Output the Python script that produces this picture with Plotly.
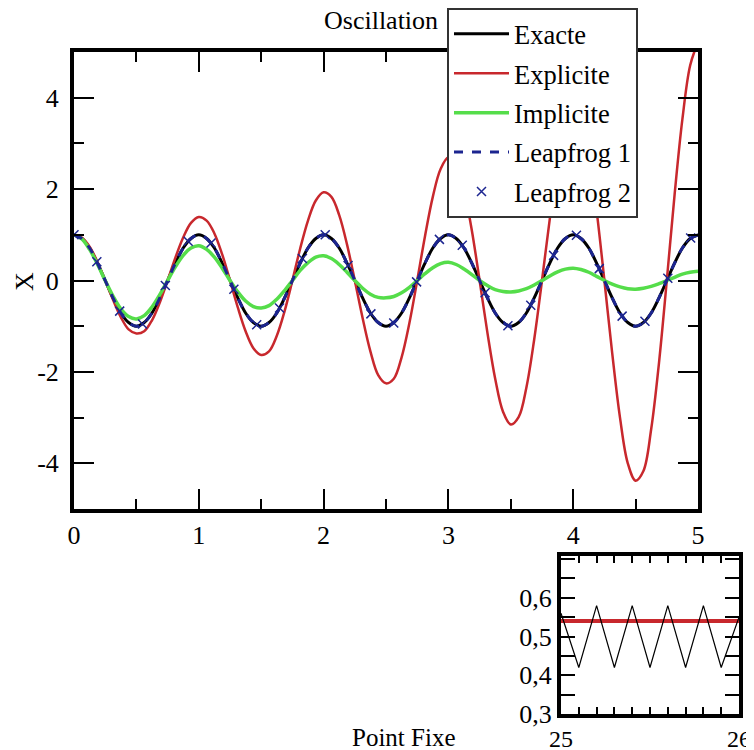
import plotly.graph_objects as go

# the page body adds a small margin, so the figure is drawn a few px in from the window corner
OFF_X, OFF_Y = 7, 6
W, H = 754, 750


def fx(p):
    return (p - OFF_X) / W


def fy(p):
    return 1 - (p - OFF_Y) / H


# time grid of the main panel (read every 1/16)
t = [0, 0.0625, 0.125, 0.1875, 0.25, 0.3125, 0.375, 0.4375,
     0.5, 0.5625, 0.625, 0.6875, 0.75, 0.8125, 0.875, 0.9375,
     1, 1.0625, 1.125, 1.1875, 1.25, 1.3125, 1.375, 1.4375,
     1.5, 1.5625, 1.625, 1.6875, 1.75, 1.8125, 1.875, 1.9375,
     2, 2.0625, 2.125, 2.1875, 2.25, 2.3125, 2.375, 2.4375,
     2.5, 2.5625, 2.625, 2.6875, 2.75, 2.8125, 2.875, 2.9375,
     3, 3.0625, 3.125, 3.1875, 3.25, 3.3125, 3.375, 3.4375,
     3.5, 3.5625, 3.625, 3.6875, 3.75, 3.8125, 3.875, 3.9375,
     4, 4.0625, 4.125, 4.1875, 4.25, 4.3125, 4.375, 4.4375,
     4.5, 4.5625, 4.625, 4.6875, 4.75, 4.8125, 4.875, 4.9375, 5]

exacte = [1, 0.92, 0.71, 0.38, 0, -0.38, -0.71, -0.92,
          -1, -0.92, -0.71, -0.38, 0, 0.38, 0.71, 0.92,
          1, 0.92, 0.71, 0.38, 0, -0.38, -0.71, -0.92,
          -1, -0.92, -0.71, -0.38, 0, 0.38, 0.71, 0.92,
          1, 0.92, 0.71, 0.38, 0, -0.38, -0.71, -0.92,
          -1, -0.92, -0.71, -0.38, 0, 0.38, 0.71, 0.92,
          1, 0.92, 0.71, 0.38, 0, -0.38, -0.71, -0.92,
          -1, -0.92, -0.71, -0.38, 0, 0.38, 0.71, 0.92,
          1, 0.92, 0.71, 0.38, 0, -0.38, -0.71, -0.92,
          -1, -0.92, -0.71, -0.38, 0, 0.38, 0.71, 0.92, 1]

explicite = [1.0, 0.94, 0.74, 0.41, 0, -0.42, -0.80, -1.07,
             -1.16, -1.11, -0.87, -0.48, 0, 0.50, 0.94, 1.26,
             1.39, 1.31, 1.03, 0.57, 0, -0.59, -1.11, -1.48,
             -1.63, -1.55, -1.21, -0.67, 0, 0.70, 1.31, 1.75,
             1.93, 1.83, 1.43, 0.79, 0, -0.82, -1.55, -2.07,
             -2.25, -2.15, -1.68, -0.93, 0, 0.97, 1.83, 2.44,
             2.69, 2.54, 1.98, 1.10, 0, -1.14, -2.15, -2.87,
             -3.15, -2.99, -2.34, -1.29, 0, 1.35, 2.54, 3.39,
             3.74, 3.53, 2.76, 1.53, 0, -1.59, -3.00, -4.00,
             -4.38, -4.17, -3.25, -1.80, 0, 1.88, 3.53, 4.71, 5.21]

implicite = [1.0, 0.91, 0.68, 0.36, 0, -0.34, -0.62, -0.79,
             -0.84, -0.77, -0.58, -0.31, 0, 0.30, 0.55, 0.71,
             0.76, 0.68, 0.51, 0.27, 0, -0.25, -0.45, -0.57,
             -0.60, -0.55, -0.41, -0.22, 0, 0.22, 0.39, 0.51,
             0.54, 0.48, 0.35, 0.18, 0, -0.17, -0.30, -0.37,
             -0.38, -0.35, -0.27, -0.15, 0, 0.15, 0.28, 0.37,
             0.40, 0.35, 0.25, 0.13, 0, -0.11, -0.20, -0.24,
             -0.25, -0.23, -0.18, -0.10, 0, 0.10, 0.19, 0.25,
             0.27, 0.24, 0.18, 0.09, 0, -0.08, -0.14, -0.18,
             -0.19, -0.17, -0.13, -0.07, 0, 0.07, 0.14, 0.18, 0.20]

leapfrog1 = [1, 0.92, 0.71, 0.38, 0, -0.38, -0.71, -0.92,
             -1, -0.92, -0.71, -0.38, 0, 0.38, 0.71, 0.92,
             1, 0.92, 0.71, 0.38, 0, -0.38, -0.71, -0.92,
             -1, -0.92, -0.71, -0.38, 0, 0.38, 0.71, 0.92,
             1, 0.92, 0.71, 0.38, 0, -0.38, -0.71, -0.92,
             -1, -0.92, -0.71, -0.38, 0, 0.38, 0.71, 0.92,
             1, 0.92, 0.71, 0.38, 0, -0.38, -0.71, -0.92,
             -1, -0.92, -0.71, -0.38, 0, 0.38, 0.71, 0.92,
             1, 0.92, 0.71, 0.38, 0, -0.38, -0.71, -0.92,
             -1, -0.92, -0.71, -0.38, 0, 0.38, 0.71, 0.92, 1]

# Leapfrog 2 markers
t_lf2 = [0, 0.183, 0.366, 0.549, 0.732, 0.915, 1.098, 1.281, 1.464, 1.647,
         1.83, 2.013, 2.196, 2.379, 2.562, 2.745, 2.928, 3.111, 3.294, 3.477,
         3.66, 3.843, 4.026, 4.209, 4.392, 4.575, 4.758, 4.941]
leapfrog2 = [1, 0.41, -0.67, -0.95, -0.11, 0.86, 0.82, -0.19, -0.97, -0.60,
             0.48, 1.0, 0.33, -0.73, -0.93, -0.03, 0.90, 0.77, -0.27, -0.99,
             -0.54, 0.55, 0.99, 0.26, -0.78, -0.89, 0.05, 0.93]

# inset "Point Fixe"
t_pf = [25.0, 25.1, 25.2, 25.3, 25.4, 25.5, 25.6, 25.7, 25.8, 25.9, 26.0]
pf_iter = [0.56, 0.42, 0.58, 0.42, 0.58, 0.42, 0.58, 0.42, 0.58, 0.42, 0.55]
t_pf_fix = [25.0, 26.0]
pf_fix = [0.54, 0.54]

NAVY = "#1c2590"
RED = "#c8282d"
GREEN = "#55dd4a"
SERIF = "Times New Roman, Liberation Serif, serif"

fig = go.Figure()
fig.add_trace(go.Scatter(x=t, y=exacte, mode="lines", name="Exacte", legendgroup="a",
                         line=dict(color="black", width=3, shape="spline")))
fig.add_trace(go.Scatter(x=t, y=explicite, mode="lines", name="Explicite", legendgroup="b",
                         line=dict(color=RED, width=2.5, shape="spline")))
fig.add_trace(go.Scatter(x=t, y=implicite, mode="lines", name="Implicite", legendgroup="c",
                         line=dict(color=GREEN, width=3.5, shape="spline")))
fig.add_trace(go.Scatter(x=t, y=leapfrog1, mode="lines", name="Leapfrog 1", legendgroup="d",
                         line=dict(color=NAVY, width=3, dash="dash", shape="spline")))
fig.add_trace(go.Scatter(x=t_lf2, y=leapfrog2, mode="markers", name="Leapfrog 2", legendgroup="e",
                         marker=dict(symbol="x-thin", size=9, line=dict(width=1.5, color=NAVY))))

fig.add_trace(go.Scatter(x=t_pf_fix, y=pf_fix, mode="lines", showlegend=False,
                         line=dict(color=RED, width=4), xaxis="x2", yaxis="y2"))
fig.add_trace(go.Scatter(x=t_pf, y=pf_iter, mode="lines", showlegend=False,
                         line=dict(color="black", width=1.2), xaxis="x2", yaxis="y2"))

frame = dict(showline=True, linewidth=4, linecolor="black", mirror="ticks",
             showgrid=False, zeroline=False, ticks="inside", tickwidth=2, tickcolor="black",
             automargin=False,
             tickfont=dict(family=SERIF, size=26, color="black"))

fig.update_layout(
    width=W, height=H,
    margin=dict(l=0, r=0, t=0, b=0, autoexpand=False),
    paper_bgcolor="white", plot_bgcolor="white",
    showlegend=True,
    xaxis=dict(frame, domain=[fx(73), fx(697)], range=[0, 5], tickvals=[0, 1, 2, 3, 4, 5],
               ticklen=20, minor=dict(dtick=0.5, ticklen=10, tickwidth=2, ticks="inside"),
               anchor="y"),
    yaxis=dict(frame, domain=[fy(507), fy(50)], range=[-5, 5],
               tickvals=[-4, -2, 0, 2, 4], ticktext=["-4", "-2", "0", "2", "4"],
               ticklen=20, minor=dict(dtick=1, ticklen=10, tickwidth=2, ticks="inside"),
               ticklabelstandoff=6, anchor="x"),
    xaxis2=dict(frame, domain=[fx(560), fx(738)], range=[25, 26], tickvals=[25, 26],
                ticklen=7, minor=dict(dtick=0.1, ticklen=7, tickwidth=2, ticks="inside"),
                tickfont=dict(family=SERIF, size=24, color="black"),
                anchor="y2"),
    yaxis2=dict(frame, domain=[fy(712), fy(554)], range=[0.3, 0.708],
                tickvals=[0.3, 0.35, 0.4, 0.45, 0.5, 0.55, 0.6, 0.65, 0.7],
                ticktext=["0,3", "", "0,4", "", "0,5", "", "0,6", "", ""],
                ticklen=14, anchor="x2"),
    legend=dict(x=fx(446), y=fy(6), xanchor="left", yanchor="top",
                bgcolor="white", bordercolor="#333333", borderwidth=2,
                font=dict(family=SERIF, size=26.5, color="black"),
                itemwidth=55, tracegroupgap=2, traceorder="grouped"),
    annotations=[
        dict(text="Oscillation", x=fx(380), y=fy(19), xref="paper", yref="paper",
             xanchor="center", yanchor="middle",
             showarrow=False, font=dict(family=SERIF, size=26, color="black")),
        dict(text="X", x=fx(24), y=fy(280), xref="paper", yref="paper", textangle=-90,
             xanchor="center", yanchor="middle",
             showarrow=False, font=dict(family=SERIF, size=26, color="black")),
        dict(text="Point Fixe", x=fx(403), y=fy(735), xref="paper", yref="paper",
             xanchor="center", yanchor="middle",
             showarrow=False, font=dict(family=SERIF, size=25, color="black")),
    ],
)

fig.write_html("out.html")
